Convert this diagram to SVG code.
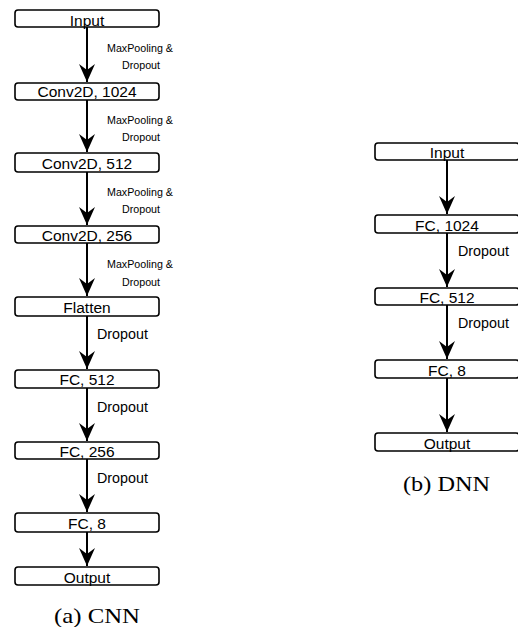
<svg xmlns="http://www.w3.org/2000/svg" width="518" height="627" viewBox="0 0 518 627">
<style>
.box{fill:#fff;stroke:#000;stroke-width:1.6}
.lbl{font-family:"Liberation Sans",Arial,sans-serif;font-size:15.5px;text-anchor:middle;fill:#000}
.sm{font-family:"Liberation Sans",Arial,sans-serif;font-size:10.7px;text-anchor:middle;fill:#000}
.dp{font-family:"Liberation Sans",Arial,sans-serif;font-size:14.3px;fill:#000}
.cap{font-family:"Liberation Serif","Times New Roman",serif;font-size:21px;text-anchor:middle;fill:#000}
.arr{stroke:#000;stroke-width:2;fill:none;marker-end:url(#ah)}
</style>
<defs>
<marker id="ah" markerUnits="userSpaceOnUse" viewBox="-18 -9 19 18" markerWidth="19" markerHeight="18" refX="0" refY="0" orient="auto">
<path d="M0,0 L-18,-8 L-12,0 L-18,8 Z" fill="#000"/>
</marker>
</defs>
<rect width="518" height="627" fill="#fff"/>
<g id="connectors">
<line class="arr" x1="87" y1="27" x2="87" y2="82"/>
<line class="arr" x1="87" y1="100" x2="87" y2="152"/>
<line class="arr" x1="87" y1="172" x2="87" y2="225"/>
<line class="arr" x1="87" y1="243" x2="87" y2="296"/>
<line class="arr" x1="87" y1="316" x2="87" y2="369"/>
<line class="arr" x1="87" y1="388" x2="87" y2="441"/>
<line class="arr" x1="87" y1="459" x2="87" y2="512"/>
<line class="arr" x1="87" y1="532" x2="87" y2="566"/>
<line class="arr" x1="447" y1="160" x2="447" y2="214"/>
<line class="arr" x1="447" y1="233" x2="447" y2="287"/>
<line class="arr" x1="447" y1="305" x2="447" y2="359"/>
<line class="arr" x1="447" y1="378" x2="447" y2="432"/>
<text class="sm" x="140" y="52">MaxPooling &amp;</text>
<text class="sm" x="141" y="69">Dropout</text>
<text class="sm" x="140" y="124">MaxPooling &amp;</text>
<text class="sm" x="141" y="141">Dropout</text>
<text class="sm" x="140" y="196">MaxPooling &amp;</text>
<text class="sm" x="141" y="213">Dropout</text>
<text class="sm" x="140" y="268">MaxPooling &amp;</text>
<text class="sm" x="141" y="286">Dropout</text>
<text class="dp" x="97" y="339">Dropout</text>
<text class="dp" x="97" y="412">Dropout</text>
<text class="dp" x="97" y="483">Dropout</text>
<text class="dp" x="458" y="256">Dropout</text>
<text class="dp" x="458" y="328">Dropout</text>
</g>
<g id="cnn-input"><rect class="box" x="15" y="10" width="144" height="17" rx="3"/><text class="lbl" x="87" y="26">Input</text></g>
<g id="cnn-conv1024"><rect class="box" x="15" y="83" width="144" height="17" rx="3"/><text class="lbl" x="87" y="97">Conv2D, 1024</text></g>
<g id="cnn-conv512"><rect class="box" x="15" y="153" width="144" height="19" rx="3"/><text class="lbl" x="87" y="169">Conv2D, 512</text></g>
<g id="cnn-conv256"><rect class="box" x="15" y="226" width="144" height="17" rx="3"/><text class="lbl" x="87" y="241">Conv2D, 256</text></g>
<g id="cnn-flatten"><rect class="box" x="15" y="297" width="144" height="19" rx="3"/><text class="lbl" x="87" y="313">Flatten</text></g>
<g id="cnn-fc512"><rect class="box" x="15" y="370" width="144" height="18" rx="3"/><text class="lbl" x="87" y="385">FC, 512</text></g>
<g id="cnn-fc256"><rect class="box" x="15" y="442" width="144" height="17" rx="3"/><text class="lbl" x="87" y="457">FC, 256</text></g>
<g id="cnn-fc8"><rect class="box" x="15" y="513" width="144" height="19" rx="3"/><text class="lbl" x="87" y="529">FC, 8</text></g>
<g id="cnn-output"><rect class="box" x="15" y="567" width="144" height="18" rx="3"/><text class="lbl" x="87" y="583">Output</text></g>
<g id="dnn-input"><rect class="box" x="375" y="143" width="144" height="17" rx="3"/><text class="lbl" x="447" y="158">Input</text></g>
<g id="dnn-fc1024"><rect class="box" x="375" y="215" width="144" height="18" rx="3"/><text class="lbl" x="447" y="231">FC, 1024</text></g>
<g id="dnn-fc512"><rect class="box" x="375" y="288" width="144" height="17" rx="3"/><text class="lbl" x="447" y="303">FC, 512</text></g>
<g id="dnn-fc8"><rect class="box" x="375" y="360" width="144" height="18" rx="3"/><text class="lbl" x="447" y="376">FC, 8</text></g>
<g id="dnn-output"><rect class="box" x="375" y="433" width="144" height="18" rx="3"/><text class="lbl" x="447" y="449">Output</text></g>
<text class="cap" x="97" y="623" textLength="86" lengthAdjust="spacingAndGlyphs">(a) CNN</text>
<text class="cap" x="446.5" y="491" textLength="87" lengthAdjust="spacingAndGlyphs">(b) DNN</text>
</svg>
